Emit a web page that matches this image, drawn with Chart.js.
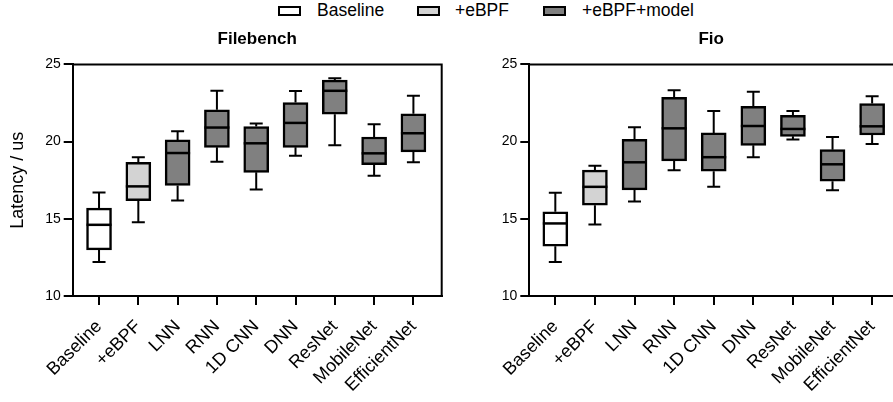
<!DOCTYPE html>
<html>
<head>
<meta charset="utf-8">
<script src="https://cdn.jsdelivr.net/npm/chart.js@4/dist/chart.umd.min.js"></script>
<style>
  html, body { margin: 0; padding: 0; background: #fff; }
  body { width: 893px; height: 402px; position: relative; overflow: hidden; font-family: "Liberation Sans", Arial, sans-serif; }
  canvas { position: absolute; top: 0; }
  #leftChart { left: 0; }
  #rightChart { left: 457px; }
  .key { position: absolute; top: 6px; width: 19px; height: 6px; border: 2px solid #000; }
  .keyText { position: absolute; top: 0px; font-size: 17.5px; line-height: 20px; color: #000; }
</style>
</head>
<body>
<div class="key" style="left:278px; background:#fff"></div><span class="keyText" style="left:317px">Baseline</span>
<div class="key" style="left:417px; background:#d3d3d3"></div><span class="keyText" style="left:455px">+eBPF</span>
<div class="key" style="left:543px; background:#808080"></div><span class="keyText" style="left:582px">+eBPF+model</span>
<canvas id="leftChart" width="450" height="402"></canvas>
<canvas id="rightChart" width="436" height="402"></canvas>
<script>
const categories = ['Baseline', '+eBPF', 'LNN', 'RNN', '1D CNN', 'DNN', 'ResNet', 'MobileNet', 'EfficientNet'];
const groupOf = [0, 1, 2, 2, 2, 2, 2, 2, 2];
const groupColors = ['#ffffff', '#d3d3d3', '#808080'];
const yTicks = [10, 15, 20, 25];

// Filebench
const fbMin    = [12.21, 14.78, 16.19, 18.70, 16.90, 19.09, 19.76, 17.79, 18.66];
const fbQ1     = [12.99, 16.17, 17.16, 19.63, 18.01, 19.63, 21.77, 18.51, 19.33];
const fbMedian = [14.61, 17.10, 19.26, 20.91, 19.89, 21.21, 23.29, 19.24, 20.54];
const fbQ3     = [15.69, 18.66, 20.11, 22.06, 20.97, 22.53, 23.98, 20.30, 21.80];
const fbMax    = [16.71, 18.98, 20.67, 23.29, 21.17, 23.27, 24.11, 21.13, 22.97];

// Fio
const fioMin    = [12.20, 14.63, 16.12, 18.15, 17.07, 18.99, 20.13, 16.85, 19.85];
const fioQ1     = [13.23, 15.88, 16.87, 18.75, 18.08, 19.76, 20.34, 17.44, 20.43];
const fioMedian = [14.70, 17.07, 18.66, 20.86, 18.99, 21.01, 20.82, 18.53, 20.99];
const fioQ3     = [15.45, 18.15, 20.15, 22.87, 20.56, 22.28, 21.70, 19.48, 22.46];
const fioMax    = [16.68, 18.43, 20.93, 23.32, 21.98, 23.23, 21.98, 20.30, 22.93];

Chart.defaults.font.family = '"Liberation Sans", Arial, sans-serif';
Chart.defaults.color = '#000';

// whiskers, medians and the top/right frame
function whiskerPlugin(min, median, max, rightFrame) {
    return {
        id: 'whiskers',
        afterDatasetsDraw(chart) {
            const { ctx, chartArea: a, scales: { x, y } } = chart;
            const q = chart.data.datasets[0].data;
            ctx.save();
            ctx.strokeStyle = '#000';
            ctx.lineCap = 'butt';
            median.forEach((m, i) => {
                const px = x.getPixelForValue(i);
                const yMin = y.getPixelForValue(min[i]);
                const yMax = y.getPixelForValue(max[i]);
                const yQ1 = y.getPixelForValue(q[i].y[0]);
                const yQ3 = y.getPixelForValue(q[i].y[1]);
                ctx.lineWidth = 2;
                ctx.beginPath();
                ctx.moveTo(px, yQ3); ctx.lineTo(px, yMax);
                ctx.moveTo(px - 6.5, yMax); ctx.lineTo(px + 6.5, yMax);
                ctx.moveTo(px, yQ1); ctx.lineTo(px, yMin);
                ctx.moveTo(px - 6.5, yMin); ctx.lineTo(px + 6.5, yMin);
                ctx.stroke();
                const ym = y.getPixelForValue(m);
                ctx.lineWidth = 2.5;
                ctx.beginPath();
                ctx.moveTo(px - 12.5, ym); ctx.lineTo(px + 12.5, ym);
                ctx.stroke();
            });
            ctx.lineWidth = 2;
            ctx.beginPath();
            ctx.moveTo(a.left, a.top);
            ctx.lineTo(a.right, a.top);
            if (rightFrame) ctx.lineTo(a.right, a.bottom);
            ctx.stroke();
            ctx.restore();
        }
    };
}

function makeChart(id, title, min, q1, median, q3, max, layoutCfg) {
    return new Chart(document.getElementById(id), {
        type: 'bar',
        data: {
            datasets: [{
                data: categories.map((c, i) => ({ x: i, y: [q1[i], q3[i]] })),
                backgroundColor: groupOf.map(g => groupColors[g]),
                borderColor: '#000',
                borderWidth: 2.5,
                borderSkipped: false,
                barThickness: 25
            }]
        },
        options: {
            responsive: false,
            animation: false,
            layout: { padding: { left: 0, right: layoutCfg.padRight, top: 0, bottom: 0 } },
            plugins: {
                legend: { display: false },
                tooltip: { enabled: false },
                title: {
                    display: true,
                    fullSize: false,
                    text: title,
                    font: { size: 17, weight: 'bold' },
                    color: '#000',
                    padding: { top: 29, bottom: 15 }
                }
            },
            scales: {
                x: {
                    type: 'linear',
                    offset: false,
                    min: layoutCfg.xMin,
                    max: layoutCfg.xMax,
                    afterBuildTicks: s => { s.ticks = categories.map((c, i) => ({ value: i })); },
                    afterFit: s => { s.height = 106; s.paddingLeft = 0; s.paddingRight = 0; },
                    ticks: {
                        autoSkip: false,
                        minRotation: 45,
                        maxRotation: 45,
                        padding: 11,
                        font: { size: 18 },
                        color: '#000',
                        callback: v => categories[v]
                    },
                    grid: { offset: false, drawOnChartArea: false, drawTicks: true, tickLength: 9, color: '#000', lineWidth: 2 },
                    border: { display: true, color: '#000', width: 2 }
                },
                y: {
                    min: yTicks[0],
                    max: yTicks[yTicks.length - 1],
                    afterBuildTicks: s => { s.ticks = yTicks.map(v => ({ value: v })); },
                    afterFit: s => { s.width = layoutCfg.yWidth; },
                    ticks: { font: { size: 14 }, color: '#000', padding: 3 },
                    grid: { drawOnChartArea: false, drawTicks: true, tickLength: 9, color: '#000', lineWidth: 2 },
                    border: { display: true, color: '#000', width: 2 },
                    title: {
                        display: layoutCfg.yTitle,
                        text: 'Latency / us',
                        font: { size: 18 },
                        color: '#000',
                        padding: { top: 7, bottom: 0 }
                    }
                }
            }
        },
        plugins: [whiskerPlugin(min, median, max, layoutCfg.rightFrame)]
    });
}

makeChart('leftChart', 'Filebench', fbMin, fbQ1, fbMedian, fbQ3, fbMax,
    { xMin: -0.67, xMax: 8.72, yWidth: 72.7, padRight: 8.3, yTitle: true, rightFrame: true });
makeChart('rightChart', 'Fio', fioMin, fioQ1, fioMedian, fioQ3, fioMax,
    { xMin: -0.657, xMax: 8.527, yWidth: 72.3, padRight: 0, yTitle: false, rightFrame: false });
</script>
</body>
</html>
